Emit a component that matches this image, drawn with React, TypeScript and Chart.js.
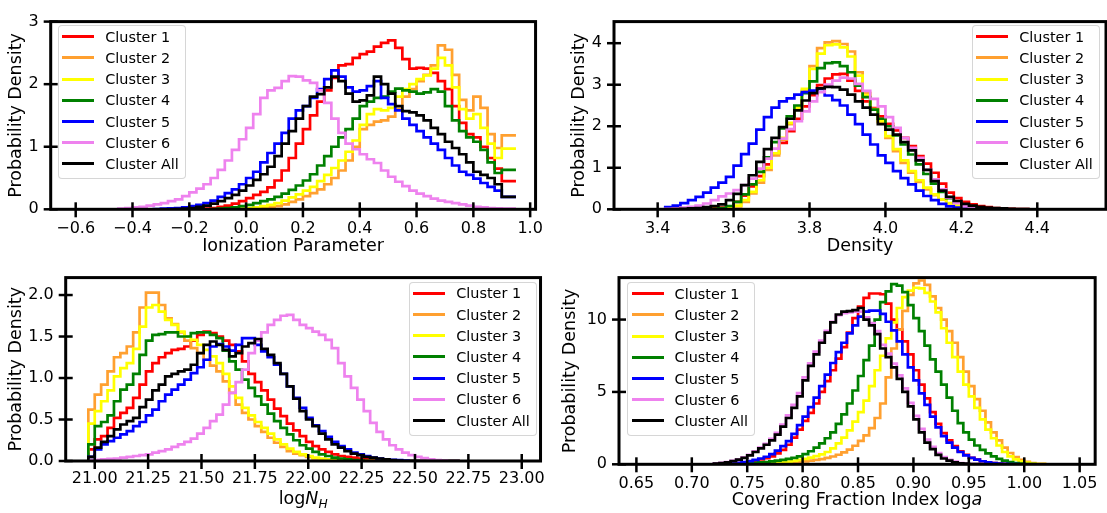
import React, { useEffect, useRef } from "react";
import { Chart, registerables } from "chart.js";

Chart.register(...registerables);

const FONT = "'DejaVu Sans', 'Noto Sans', sans-serif";

const SERIES_NAMES = ["Cluster 1", "Cluster 2", "Cluster 3", "Cluster 4", "Cluster 5", "Cluster 6", "Cluster All"];
const SERIES_COLORS = ["#ff0000", "#ffa030", "#ffff00", "#008000", "#0000ff", "#ee82ee", "#000000"];

// ---------- Panel 1: Ionization Parameter (bins of 0.025 starting at -0.45)
const ION_BIN_START = -0.45;
const ION_BIN_WIDTH = 0.025;
const ION_C1 = [0,0,0,0,0,0,0,0,0,0,0,0,0,0.01,0.02,0.04,0.06,0.09,
  0.13,0.18,0.23,0.28,0.35,0.46,0.62,0.82,1.05,1.28,
  1.50,1.72,1.90,2.10,2.30,2.32,2.42,2.48,2.52,2.60,
  2.66,2.70,2.58,2.40,2.25,2.26,2.25,2.18,2.05,1.92,
  1.65,1.38,1.20,1.15,1.00,0.82,0.65,0.45];
const ION_C2 = [0,0,0,0,0,0,0,0,0,0,0,0,0,0,0,0,0,0,0,
  0.005,0.01,0.02,0.03,0.05,0.08,0.12,0.16,0.21,
  0.26,0.32,0.40,0.50,0.62,0.78,1.00,1.28,1.35,1.40,
  1.42,1.48,1.60,1.80,1.92,2.05,2.15,2.30,2.62,2.55,
  2.15,1.75,1.58,1.80,1.62,1.20,0.98,1.18];
const ION_C3 = [0,0,0,0,0,0,0,0,0,0,0,0,0,0,0,0,0,0.005,
  0.01,0.02,0.03,0.05,0.07,0.10,0.14,0.19,0.24,0.30,
  0.36,0.45,0.55,0.66,0.78,0.92,1.10,1.35,1.52,1.60,
  1.58,1.62,1.80,1.92,2.00,2.08,2.14,2.25,2.42,2.30,
  1.95,1.60,1.45,1.52,1.30,1.05,0.82,0.97];
const ION_C4 = [0,0,0,0,0,0,0,0,0,0,0,0,0,0,0.005,0.01,0.02,0.03,
  0.05,0.07,0.10,0.13,0.16,0.20,0.25,0.31,0.38,0.46,
  0.56,0.70,0.85,1.00,1.15,1.28,1.45,1.65,1.72,1.78,
  1.80,1.88,1.93,1.90,1.88,1.85,1.87,1.92,1.88,1.65,
  1.42,1.25,1.15,1.08,0.95,0.75,0.58,0.63];
const ION_C5 = [0,0,0,0,0,0,0.005,0.01,0.015,0.02,0.03,0.05,0.07,0.10,0.14,0.20,0.26,0.32,
  0.40,0.50,0.60,0.75,0.90,1.05,1.22,1.45,1.58,1.65,
  1.78,1.92,2.08,2.22,2.12,1.95,1.88,1.90,1.97,2.05,
  1.78,1.68,1.58,1.45,1.35,1.25,1.15,1.05,0.95,0.82,
  0.70,0.60,0.55,0.49,0.42,0.36,0.30,0.20];
const ION_C6 = [0.0,0.01,0.02,0.03,0.04,0.06,0.08,0.10,0.13,0.16,
  0.21,0.27,0.33,0.40,0.50,0.63,0.78,0.95,
  1.12,1.30,1.52,1.78,1.90,1.94,2.05,2.13,2.12,2.06,
  2.02,1.90,1.70,1.45,1.22,1.05,0.96,0.88,0.80,0.74,
  0.62,0.52,0.44,0.37,0.30,0.25,0.21,0.17,0.14,0.12,
  0.10,0.08,0.06,0.04,0.03,0.02,0.015,0.01];
const ION_ALL = [0,0,0,0,0,0,0,0,0,0.005,0.01,0.02,0.04,0.06,0.09,0.13,0.18,0.23,
  0.30,0.38,0.47,0.56,0.68,0.85,1.05,1.25,1.45,1.65,
  1.80,1.84,1.95,2.12,2.05,1.85,1.72,1.74,1.82,2.12,
  2.00,1.85,1.65,1.57,1.55,1.50,1.42,1.30,1.20,1.08,
  0.98,0.88,0.75,0.60,0.55,0.50,0.40,0.20];
const ION_X_TICKS = [-0.6, -0.4, -0.2, 0.0, 0.2, 0.4, 0.6, 0.8, 1.0];
const ION_X_LABELS = ["\u22120.6", "\u22120.4", "\u22120.2", "0.0", "0.2", "0.4", "0.6", "0.8", "1.0"];
const ION_Y_TICKS = [0, 1, 2, 3];
const ION_Y_LABELS = ["0", "1", "2", "3"];

// ---------- Panel 2: Density (bins of 0.02 starting at 3.42)
const DEN_BIN_START = 3.42;
const DEN_BIN_WIDTH = 0.02;
const DEN_C1 = [0,0,0,0,0,0.005,0.01,0.02,0.04,0.07,
  0.18,0.33,0.55,0.80,1.08,1.35,1.60,1.88,2.18,2.48,
  2.75,2.99,3.15,3.25,3.26,3.10,2.85,2.60,2.44,2.24,
  2.06,1.90,1.72,1.52,1.28,1.10,0.88,0.62,0.40,0.27,
  0.18,0.12,0.08,0.05,0.03,0.02,0.01,0.005];
const DEN_C2 = [0,0,0,0,0,0,0,0,0.01,0.03,
  0.07,0.18,0.38,0.64,0.95,1.30,1.68,2.05,2.40,2.85,
  3.45,3.88,4.02,4.05,3.98,3.80,3.30,2.80,2.42,2.10,
  1.72,1.40,1.12,0.88,0.66,0.48,0.34,0.23,0.14,0.08,
  0.04,0.02,0.01,0,0,0,0,0];
const DEN_C3 = [0,0,0,0,0,0,0,0,0.01,0.03,
  0.09,0.22,0.42,0.70,1.00,1.35,1.72,2.08,2.45,2.90,
  3.38,3.75,3.95,3.97,3.90,3.68,3.22,2.75,2.40,2.12,
  1.76,1.45,1.18,0.92,0.70,0.52,0.36,0.24,0.15,0.09,
  0.05,0.03,0.01,0,0,0,0,0];
const DEN_C4 = [0,0,0,0,0,0,0,0.01,0.03,0.08,
  0.18,0.36,0.60,0.90,1.25,1.62,1.95,2.24,2.50,2.80,
  3.08,3.40,3.52,3.54,3.45,3.30,2.98,2.70,2.40,2.18,
  2.00,1.78,1.56,1.32,1.08,0.85,0.62,0.42,0.27,0.16,
  0.09,0.05,0.03,0.01,0,0,0,0];
const DEN_C5 = [0.02,0.05,0.09,0.15,0.22,0.30,0.40,0.52,0.64,0.78,
  1.05,1.33,1.58,1.92,2.22,2.45,2.60,2.67,2.76,2.82,
  2.86,2.90,2.74,2.63,2.50,2.28,2.05,1.80,1.56,1.30,
  1.12,0.92,0.75,0.60,0.45,0.32,0.22,0.13,0.07,0.04,
  0.02,0.01,0,0,0,0,0,0];
const DEN_C6 = [0.005,0.01,0.02,0.04,0.06,0.09,0.14,0.22,0.31,0.38,
  0.46,0.58,0.74,0.98,1.22,1.46,1.70,1.93,2.12,2.36,
  2.60,2.82,3.00,3.10,3.17,3.15,3.02,2.85,2.66,2.48,
  2.22,1.96,1.72,1.48,1.24,0.95,0.72,0.48,0.28,0.15,
  0.07,0.04,0.02,0.01,0,0,0,0];
const DEN_ALL = [0,0,0.005,0.01,0.02,0.03,0.05,0.08,0.12,0.22,
  0.37,0.58,0.82,1.14,1.45,1.72,1.98,2.18,2.38,2.62,
  2.80,2.91,2.95,2.94,2.88,2.76,2.60,2.45,2.28,2.05,
  1.92,1.80,1.62,1.42,1.18,0.95,0.68,0.45,0.30,0.20,
  0.13,0.09,0.06,0.04,0.03,0.02,0.01,0.005];
const DEN_X_TICKS = [3.4, 3.6, 3.8, 4.0, 4.2, 4.4];
const DEN_X_LABELS = ["3.4", "3.6", "3.8", "4.0", "4.2", "4.4"];
const DEN_Y_TICKS = [0, 1, 2, 3, 4];
const DEN_Y_LABELS = ["0", "1", "2", "3", "4"];

// ---------- Panel 3: log N_H (bins of 0.03 starting at 20.97)
const NH_BIN_START = 20.97;
const NH_BIN_WIDTH = 0.03;
const NH_C1 = [0.02,0.14,0.26,0.30,0.40,0.52,0.58,0.64,0.76,0.92,
  1.08,1.18,1.25,1.30,1.34,1.35,1.38,1.45,1.52,1.56,
  1.54,1.50,1.45,1.40,1.32,1.20,1.05,0.95,0.85,0.74,
  0.63,0.54,0.45,0.37,0.30,0.23,0.18,0.14,0.11,0.08,
  0.06,0.05,0.04,0.03,0.02,0.01,0.005,0,0,0,
  0,0,0,0,0,0,0,0];
const NH_C2 = [0.20,0.62,0.80,0.92,1.08,1.25,1.30,1.38,1.55,1.85,
  2.03,2.03,1.88,1.72,1.65,1.55,1.45,1.36,1.30,1.22,
  1.15,1.08,0.96,0.82,0.68,0.58,0.50,0.42,0.35,0.28,
  0.22,0.17,0.12,0.09,0.07,0.05,0.03,0.02,0.015,0.01,
  0.005,0,0,0,0,0,0,0,0,0,
  0,0,0,0,0,0,0,0];
const NH_C3 = [0.10,0.45,0.60,0.72,0.85,1.02,1.12,1.18,1.35,1.62,
  1.85,1.88,1.80,1.70,1.64,1.56,1.50,1.46,1.40,1.34,
  1.26,1.18,1.05,0.90,0.76,0.64,0.55,0.47,0.40,0.33,
  0.26,0.20,0.15,0.11,0.08,0.06,0.04,0.03,0.02,0.01,
  0.005,0,0,0,0,0,0,0,0,0,
  0,0,0,0,0,0,0,0];
const NH_C4 = [0.02,0.20,0.42,0.47,0.55,0.72,0.86,0.92,1.05,1.28,
  1.45,1.52,1.53,1.55,1.55,1.50,1.50,1.54,1.55,1.55,
  1.52,1.48,1.33,1.20,1.10,0.98,0.88,0.78,0.68,0.57,
  0.48,0.40,0.32,0.25,0.19,0.15,0.11,0.08,0.06,0.04,
  0.03,0.02,0.01,0.005,0,0,0,0,0,0,
  0,0,0,0,0,0,0,0];
const NH_C5 = [0,0.05,0.14,0.20,0.24,0.28,0.32,0.36,0.42,0.47,
  0.55,0.62,0.72,0.80,0.86,0.92,0.98,1.06,1.13,1.22,
  1.38,1.41,1.38,1.33,1.40,1.48,1.48,1.40,1.32,1.25,
  1.16,1.05,0.90,0.76,0.64,0.52,0.43,0.36,0.29,0.23,
  0.18,0.14,0.10,0.08,0.06,0.04,0.03,0.02,0.015,0.01,
  0.005,0,0,0,0,0,0,0];
const NH_C6 = [0,0.01,0.015,0.02,0.025,0.03,0.04,0.05,0.06,0.07,
  0.08,0.10,0.12,0.14,0.17,0.20,0.23,0.27,0.33,0.40,
  0.48,0.56,0.68,0.82,0.95,1.10,1.30,1.45,1.55,1.64,
  1.70,1.75,1.76,1.70,1.64,1.60,1.56,1.52,1.46,1.36,
  1.18,1.02,0.88,0.74,0.60,0.46,0.35,0.26,0.19,0.14,
  0.10,0.07,0.05,0.035,0.02,0.01,0.005,0];
const NH_ALL = [0,0.05,0.16,0.23,0.30,0.38,0.44,0.48,0.52,0.65,
  0.74,0.85,0.92,1.02,1.05,1.08,1.10,1.16,1.30,1.40,
  1.44,1.40,1.34,1.26,1.30,1.38,1.42,1.47,1.35,1.28,
  1.18,1.05,0.90,0.75,0.60,0.50,0.42,0.33,0.26,0.20,
  0.16,0.12,0.09,0.07,0.05,0.04,0.03,0.02,0.01,0.005,
  0,0,0,0,0,0,0,0];
const NH_X_TICKS = [21.0, 21.25, 21.5, 21.75, 22.0, 22.25, 22.5, 22.75, 23.0];
const NH_X_LABELS = ["21.00", "21.25", "21.50", "21.75", "22.00", "22.25", "22.50", "22.75", "23.00"];
const NH_Y_TICKS = [0, 0.5, 1.0, 1.5, 2.0];
const NH_Y_LABELS = ["0.0", "0.5", "1.0", "1.5", "2.0"];

// ---------- Panel 4: Covering fraction index (bins of 0.005 starting at 0.72)
const CF_BIN_START = 0.72;
const CF_BIN_WIDTH = 0.005;
const CF_C1 = [0,0.01,0.02,0.03,0.05,0.08,0.12,0.18,0.25,0.33,
  0.42,0.55,0.75,1.00,1.35,1.85,2.40,3.00,3.55,4.20,
  5.00,5.75,6.50,7.30,8.10,9.10,10.10,10.90,11.50,11.80,
  11.80,11.75,11.10,10.00,9.30,8.50,7.60,6.50,5.50,4.55,
  3.60,2.80,2.15,1.65,1.25,0.90,0.65,0.45,0.32,0.21,
  0.13,0.08,0.05,0.03,0.015,0.01,0,0,0,0];
const CF_C2 = [0,0,0,0,0,0,0,0,0.01,0.02,
  0.03,0.04,0.06,0.08,0.10,0.13,0.16,0.20,0.25,0.30,
  0.36,0.44,0.54,0.66,0.82,1.02,1.28,1.62,2.00,2.50,
  3.20,4.20,6.00,8.00,9.30,10.60,11.70,12.50,12.70,12.40,
  11.60,10.80,10.00,9.20,8.40,7.40,6.40,5.40,4.50,3.70,
  2.90,2.20,1.65,1.15,0.78,0.50,0.30,0.17,0.08,0.03];
const CF_C3 = [0,0,0,0,0,0,0.01,0.02,0.03,0.05,
  0.07,0.09,0.12,0.15,0.19,0.24,0.30,0.38,0.46,0.56,
  0.68,0.85,1.10,1.45,1.85,2.35,2.95,3.60,4.40,5.40,
  6.50,7.50,8.70,9.80,10.80,11.55,12.00,12.20,12.15,11.85,
  11.25,10.50,9.40,8.40,7.40,6.40,5.50,4.70,3.90,3.10,
  2.40,1.80,1.30,0.85,0.55,0.34,0.20,0.11,0.05,0.02];
const CF_C4 = [0,0,0,0.01,0.02,0.03,0.05,0.07,0.10,0.13,
  0.16,0.20,0.25,0.30,0.38,0.45,0.55,0.70,0.90,1.15,
  1.45,1.80,2.20,2.80,3.45,4.20,5.10,6.10,7.20,8.20,
  10.00,11.20,11.95,12.45,12.35,11.90,11.00,10.10,9.20,8.20,
  7.25,6.40,5.50,4.60,3.70,2.85,2.20,1.70,1.30,1.00,
  0.75,0.55,0.38,0.25,0.15,0.08,0.04,0.02,0.01,0];
const CF_C5 = [0,0.01,0.02,0.04,0.07,0.10,0.15,0.22,0.30,0.40,
  0.52,0.70,0.95,1.25,1.60,2.10,2.70,3.30,3.95,4.60,
  5.40,6.20,7.00,7.75,8.40,9.05,9.60,10.20,10.55,10.62,
  10.62,10.40,9.85,9.25,8.50,7.60,6.70,5.80,4.90,4.10,
  3.30,2.55,1.95,1.50,1.15,0.85,0.62,0.45,0.32,0.21,
  0.13,0.08,0.05,0.03,0.015,0.01,0,0,0,0];
const CF_C6 = [0.02,0.05,0.10,0.16,0.24,0.35,0.48,0.66,0.90,1.16,
  1.42,1.75,2.18,2.75,3.38,4.10,4.92,6.00,6.98,7.78,
  8.55,9.22,9.85,10.30,10.45,10.50,10.55,10.55,10.15,9.75,
  9.20,8.25,7.65,6.95,6.15,5.25,4.25,3.35,2.45,1.70,
  1.20,0.78,0.50,0.30,0.18,0.09,0.05,0.02,0.01,0,
  0,0,0,0,0,0,0,0,0,0];
const CF_ALL = [0.02,0.05,0.09,0.14,0.22,0.32,0.45,0.62,0.85,1.10,
  1.35,1.65,2.05,2.60,3.20,3.90,4.70,5.80,6.80,7.60,
  8.40,9.10,9.80,10.35,10.55,10.58,10.65,10.80,10.00,9.60,
  9.00,8.00,7.40,6.70,5.90,5.00,4.00,3.10,2.20,1.50,
  1.05,0.65,0.40,0.25,0.14,0.07,0.04,0.02,0.01,0,
  0,0,0,0,0,0,0,0,0,0];
const CF_X_TICKS = [0.65, 0.70, 0.75, 0.80, 0.85, 0.90, 0.95, 1.00, 1.05];
const CF_X_LABELS = ["0.65", "0.70", "0.75", "0.80", "0.85", "0.90", "0.95", "1.00", "1.05"];
const CF_Y_TICKS = [0, 5, 10];
const CF_Y_LABELS = ["0", "5", "10"];

type Seg = { t: string; italic?: boolean; sub?: boolean };

interface PanelSpec {
  key: string;
  box: { left: number; top: number; width: number; height: number };
  area: { left: number; top: number; right: number; bottom: number };
  xRange: [number, number];
  yRange: [number, number];
  binStart: number;
  binWidth: number;
  series: number[][];
  xTicks: number[];
  xLabels: string[];
  yTicks: number[];
  yLabels: string[];
  xLabelPad: number;
  xTitle: Seg[];
  xTitleBaseline: number;
  yTitle: string;
  yTitleX: number;
  legend: { left: number; top: number };
}

const PANELS: PanelSpec[] = [
  {
    key: "ion",
    box: { left: 0, top: 0, width: 553, height: 256 },
    area: { left: 50.7, top: 17, right: 543, bottom: 209.3 },
    xRange: [-0.688, 1.019],
    yRange: [0, 3],
    binStart: ION_BIN_START,
    binWidth: ION_BIN_WIDTH,
    series: [ION_C1, ION_C2, ION_C3, ION_C4, ION_C5, ION_C6, ION_ALL],
    xTicks: ION_X_TICKS, xLabels: ION_X_LABELS, yTicks: ION_Y_TICKS, yLabels: ION_Y_LABELS,
    xLabelPad: 10,
    xTitle: [{ t: "Ionization Parameter" }],
    xTitleBaseline: 251,
    yTitle: "Probability Density",
    yTitleX: 16,
    legend: { left: 57.7, top: 25 },
  },
  {
    key: "den",
    box: { left: 553, top: 0, width: 554, height: 256 },
    area: { left: 61, top: 17, right: 553, bottom: 209.3 },
    xRange: [3.285, 4.581],
    yRange: [0, 4.52],
    binStart: DEN_BIN_START,
    binWidth: DEN_BIN_WIDTH,
    series: [DEN_C1, DEN_C2, DEN_C3, DEN_C4, DEN_C5, DEN_C6, DEN_ALL],
    xTicks: DEN_X_TICKS, xLabels: DEN_X_LABELS, yTicks: DEN_Y_TICKS, yLabels: DEN_Y_LABELS,
    xLabelPad: 10,
    xTitle: [{ t: "Density" }],
    xTitleBaseline: 251,
    yTitle: "Probability Density",
    yTitleX: 26.3,
    legend: { left: 971.7, top: 25 },
  },
  {
    key: "nh",
    box: { left: 0, top: 256, width: 553, height: 257 },
    area: { left: 65.7, top: 18, right: 544, bottom: 205 },
    xRange: [20.864, 23.088],
    yRange: [0, 2.21],
    binStart: NH_BIN_START,
    binWidth: NH_BIN_WIDTH,
    series: [NH_C1, NH_C2, NH_C3, NH_C4, NH_C5, NH_C6, NH_ALL],
    xTicks: NH_X_TICKS, xLabels: NH_X_LABELS, yTicks: NH_Y_TICKS, yLabels: NH_Y_LABELS,
    xLabelPad: 8,
    xTitle: [{ t: "log" }, { t: "N", italic: true }, { t: "H", italic: true, sub: true }],
    xTitleBaseline: 248,
    yTitle: "Probability Density",
    yTitleX: 16,
    legend: { left: 408.7, top: 281.7 },
  },
  {
    key: "cf",
    box: { left: 553, top: 256, width: 554, height: 257 },
    area: { left: 66, top: 19, right: 553, bottom: 208.3 },
    xRange: [0.6343, 1.064],
    yRange: [0, 12.9],
    binStart: CF_BIN_START,
    binWidth: CF_BIN_WIDTH,
    series: [CF_C1, CF_C2, CF_C3, CF_C4, CF_C5, CF_C6, CF_ALL],
    xTicks: CF_X_TICKS, xLabels: CF_X_LABELS, yTicks: CF_Y_TICKS, yLabels: CF_Y_LABELS,
    xLabelPad: 9.5,
    xTitle: [{ t: "Covering Fraction Index log" }, { t: "a", italic: true }],
    xTitleBaseline: 249,
    yTitle: "Probability Density",
    yTitleX: 17.8,
    legend: { left: 627, top: 282 },
  },
];

const TITLE_SIZE = 17.5;
const TICK_SIZE = 16;

function toSteps(start: number, width: number, vals: number[]) {
  const pts = vals.map((v, i) => ({ x: start + i * width, y: v }));
  pts.push({ x: start + vals.length * width, y: vals[vals.length - 1] });
  return pts;
}

function decorPlugin(spec: PanelSpec) {
  return {
    id: "decor_" + spec.key,
    afterDraw(chart: any) {
      const { ctx, chartArea: a } = chart;
      const xs = chart.scales.x;
      const ys = chart.scales.y;
      ctx.save();
      ctx.strokeStyle = "#000";
      ctx.lineCap = "butt";
      ctx.lineWidth = 2.5;
      for (const t of xs.ticks) {
        const px = xs.getPixelForValue(t.value);
        ctx.beginPath();
        ctx.moveTo(px, a.bottom - 7);
        ctx.lineTo(px, a.bottom + 8);
        ctx.stroke();
      }
      for (const t of ys.ticks) {
        const py = ys.getPixelForValue(t.value);
        ctx.beginPath();
        ctx.moveTo(a.left - 7, py);
        ctx.lineTo(a.left + 7, py);
        ctx.stroke();
      }
      ctx.lineWidth = 3;
      ctx.strokeRect(a.left, a.top, a.right - a.left, a.bottom - a.top);

      ctx.fillStyle = "#000";
      ctx.save();
      ctx.font = `${TITLE_SIZE}px ${FONT}`;
      ctx.translate(spec.yTitleX, (a.top + a.bottom) / 2);
      ctx.rotate(-Math.PI / 2);
      ctx.textAlign = "center";
      ctx.textBaseline = "middle";
      ctx.fillText(spec.yTitle, 0, 0);
      ctx.restore();

      const fontFor = (s: Seg) =>
        `${s.italic ? "italic " : ""}${s.sub ? TITLE_SIZE * 0.7 : TITLE_SIZE}px ${FONT}`;
      let total = 0;
      const widths = spec.xTitle.map((s) => {
        ctx.font = fontFor(s);
        const w = ctx.measureText(s.t).width;
        total += w;
        return w;
      });
      let x = (a.left + a.right) / 2 - total / 2;
      ctx.textAlign = "left";
      ctx.textBaseline = "alphabetic";
      spec.xTitle.forEach((s, i) => {
        ctx.font = fontFor(s);
        ctx.fillText(s.t, x, spec.xTitleBaseline + (s.sub ? TITLE_SIZE * 0.22 : 0));
        x += widths[i];
      });
      ctx.restore();
    },
  };
}

function buildConfig(spec: PanelSpec): any {
  const { box, area } = spec;
  const n = SERIES_NAMES.length;
  return {
    type: "line",
    data: {
      datasets: spec.series.map((vals, i) => ({
        label: SERIES_NAMES[i],
        data: toSteps(spec.binStart, spec.binWidth, vals),
        borderColor: SERIES_COLORS[i],
        backgroundColor: SERIES_COLORS[i],
        borderWidth: 2.7,
        stepped: "after",
        pointRadius: 0,
        pointHoverRadius: 0,
        fill: false,
        order: n - 1 - i,
      })),
    },
    options: {
      animation: false,
      responsive: false,
      maintainAspectRatio: false,
      devicePixelRatio: 1,
      events: [],
      layout: {
        autoPadding: false,
        padding: { left: 0, top: area.top, right: box.width - area.right, bottom: 0 },
      },
      plugins: { legend: { display: false }, tooltip: { enabled: false }, title: { display: false } },
      scales: {
        x: {
          type: "linear",
          min: spec.xRange[0],
          max: spec.xRange[1],
          afterBuildTicks: (s: any) => {
            s.ticks = spec.xTicks.map((v) => ({ value: v }));
          },
          afterFit: (s: any) => {
            s.height = box.height - area.bottom;
          },
          grid: { display: false, drawTicks: false },
          border: { display: false },
          ticks: {
            autoSkip: false,
            maxRotation: 0,
            minRotation: 0,
            padding: spec.xLabelPad,
            color: "#000",
            font: { family: FONT, size: TICK_SIZE },
            callback: (_v: any, idx: number) => spec.xLabels[idx],
          },
        },
        y: {
          type: "linear",
          min: spec.yRange[0],
          max: spec.yRange[1],
          afterBuildTicks: (s: any) => {
            s.ticks = spec.yTicks.map((v) => ({ value: v }));
          },
          afterFit: (s: any) => {
            s.width = area.left;
          },
          grid: { display: false, drawTicks: false },
          border: { display: false },
          ticks: {
            autoSkip: false,
            padding: 12,
            color: "#000",
            font: { family: FONT, size: TICK_SIZE },
            callback: (_v: any, idx: number) => spec.yLabels[idx],
          },
        },
      },
    },
    plugins: [decorPlugin(spec)],
  };
}

function Legend({ left, top }: { left: number; top: number }) {
  return (
    <div
      style={{
        position: "absolute",
        left,
        top,
        width: 128,
        height: 154,
        boxSizing: "border-box",
        border: "1px solid rgba(204,204,204,0.8)",
        borderRadius: 4,
        background: "rgba(255,255,255,0.8)",
        fontFamily: FONT,
        fontSize: 14.4,
        color: "#000",
      }}
    >
      {SERIES_NAMES.map((name, i) => (
        <div
          key={name}
          style={{
            position: "absolute",
            left: 3.6,
            top: 0.7 + i * 21.2,
            height: 20,
            display: "flex",
            alignItems: "center",
            whiteSpace: "nowrap",
          }}
        >
          <span style={{ display: "inline-block", width: 32, height: 3, background: SERIES_COLORS[i] }} />
          <span style={{ marginLeft: 11, lineHeight: "20px" }}>{name}</span>
        </div>
      ))}
    </div>
  );
}

function Panel({ spec }: { spec: PanelSpec }) {
  const ref = useRef<HTMLCanvasElement>(null);
  useEffect(() => {
    if (!ref.current) return;
    const chart = new Chart(ref.current, buildConfig(spec));
    return () => chart.destroy();
  }, [spec]);
  const { box } = spec;
  return (
    <>
      <canvas
        ref={ref}
        width={box.width}
        height={box.height}
        style={{ position: "absolute", left: box.left, top: box.top, width: box.width, height: box.height }}
      />
      <Legend left={spec.legend.left} top={spec.legend.top} />
    </>
  );
}

export default function App() {
  return (
    <div
      style={{
        position: "absolute",
        left: 0,
        top: 0,
        width: 1107,
        height: 513,
        background: "#fff",
        overflow: "hidden",
      }}
    >
      {PANELS.map((p) => (
        <Panel key={p.key} spec={p} />
      ))}
    </div>
  );
}
